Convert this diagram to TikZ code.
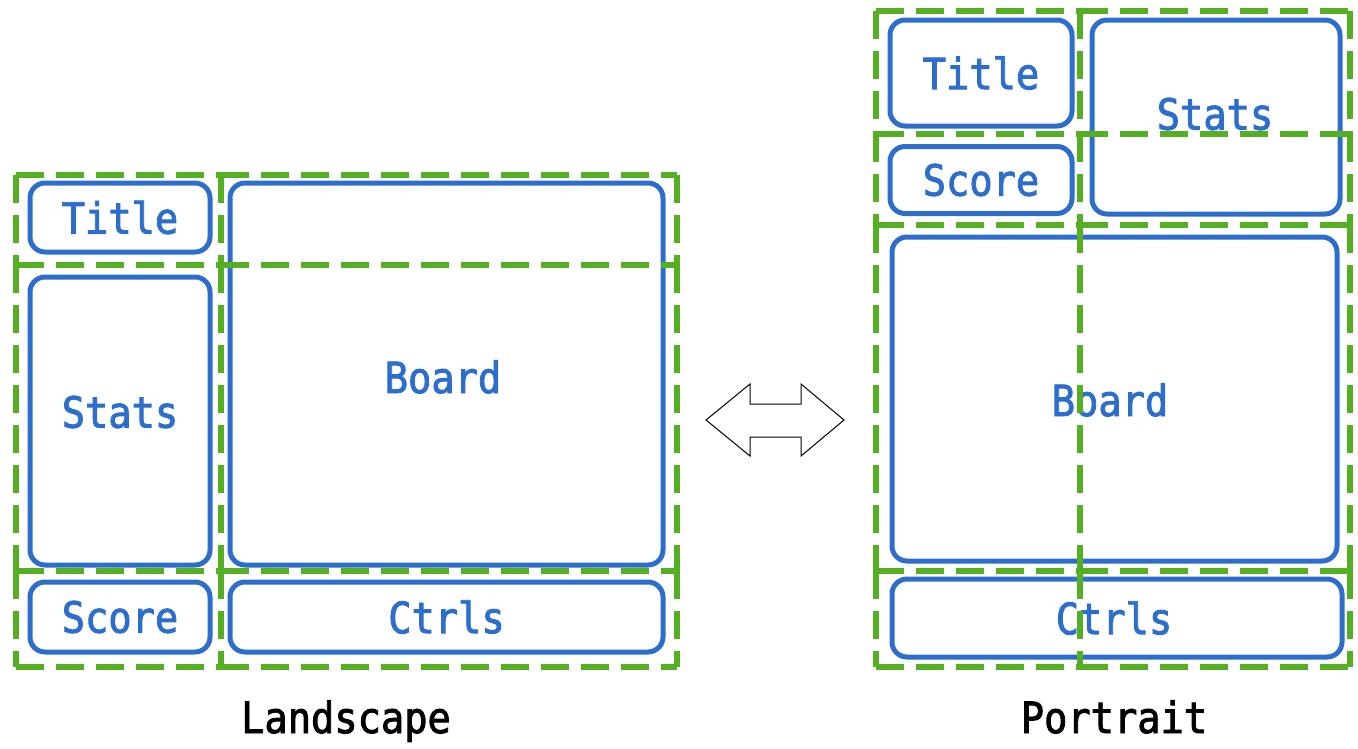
\documentclass[tikz,border=0pt]{standalone}
\usepackage{fontspec}
\newfontfamily\monofam[FakeStretch=0.9,FakeBold=2]{DejaVu Sans Mono}
\definecolor{boxblue}{RGB}{45,110,205}
\definecolor{gridgreen}{RGB}{85,175,35}
\begin{document}
\begin{tikzpicture}[x=1pt,y=-1pt,
  lbltext/.style={font=\monofam\fontsize{43}{50}\selectfont},
  panel/.style={draw=boxblue, line width=5pt, rounded corners=15pt, inner sep=0pt,
     text=boxblue, lbltext},
  cell/.style={draw=gridgreen, line width=5.5pt, dash pattern=on 28pt off 12pt},
  caption/.style={lbltext, text=black, anchor=base}
]
\useasboundingbox (0,0) rectangle (1358,748);
% ---------------- Landscape ----------------
\node[panel, minimum width=180, minimum height=69] (ltitle) at (120,217.5) {Title};
\node[panel, minimum width=180, minimum height=288] (lstats) at (120,421) {};
\node[lbltext, text=boxblue] (lstatst) at (120,412) {Stats};
\node[panel, minimum width=433, minimum height=382] (lboard) at (446.5,374) {};
\node[lbltext, text=boxblue] (lboardt) at (443,377) {Board};
\node[panel, minimum width=180, minimum height=70] (lscore) at (120,617) {Score};
\node[panel, minimum width=433, minimum height=70] (lctrls) at (446.5,617) {Ctrls};
% grid: each cell's top and left edges start at its top-left corner
\foreach \xa/\xb in {16/221,221/677}{
  \foreach \ya/\yb in {175/265,265/571,571/667}{
    \draw[cell] (\xa,\ya) -- (\xb,\ya);
    \draw[cell] (\xa,\ya) -- (\xa,\yb);
  }
  \draw[cell] (\xa,667) -- (\xb,667);
}
\foreach \ya/\yb in {175/265,265/571,571/667}{
  \draw[cell] (677,\ya) -- (677,\yb);
}
\node[caption] (lcap) at (346,733) {Landscape};
% ---------------- Arrow ----------------
\draw[line width=1pt, line join=miter] (706,420) -- (750,384) -- (750,404) -- (801,404) -- (801,384)
  -- (844,420) -- (801,456) -- (801,437) -- (750,437) -- (750,456) -- cycle;
% ---------------- Portrait ----------------
\node[panel, minimum width=182, minimum height=106] (ptitle) at (981,73) {Title};
\node[panel, minimum width=248, minimum height=194] (pstats) at (1216,117) {};
\node[lbltext, text=boxblue] (pstatst) at (1215,114) {Stats};
\node[panel, minimum width=182, minimum height=67] (pscore) at (981,180) {Score};
\node[panel, minimum width=445, minimum height=324] (pboard) at (1114.5,399) {};
\node[lbltext, text=boxblue] (pboardt) at (1110,400) {Board};
\node[panel, minimum width=450, minimum height=78] (pctrls) at (1117,618) {};
\node[lbltext, text=boxblue] (pctrlst) at (1114,618) {Ctrls};
% grid
\foreach \xa/\xb in {876/1080,1080/1350}{
  \foreach \ya/\yb in {11/134,134/225,225/571,571/667}{
    \draw[cell] (\xa,\ya) -- (\xb,\ya);
    \draw[cell] (\xa,\ya) -- (\xa,\yb);
  }
  \draw[cell] (\xa,667) -- (\xb,667);
}
\foreach \ya/\yb in {11/134,134/225,225/571,571/667}{
  \draw[cell] (1350,\ya) -- (1350,\yb);
}
\node[caption] (pcap) at (1114,733) {Portrait};
\end{tikzpicture}
\end{document}
